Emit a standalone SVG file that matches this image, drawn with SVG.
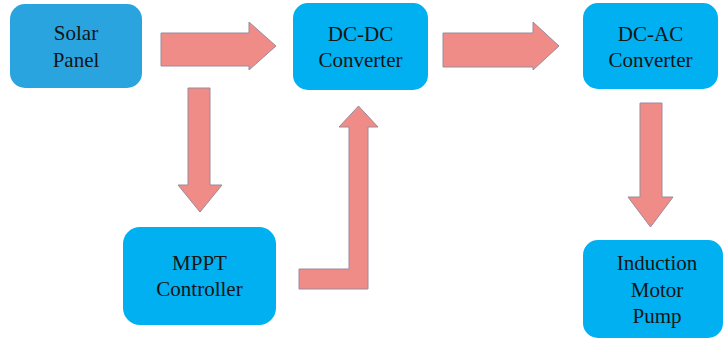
<svg xmlns="http://www.w3.org/2000/svg" width="725" height="339" viewBox="0 0 725 339">
  <style>
    .box { fill: #00b0f0; }
    .box.alt { fill: #2aa4df; }
    text { font-family: 'Liberation Serif', 'Times New Roman', serif; font-size: 21px; fill: #141414; text-anchor: middle; }
    .arrow { fill: #ef8c88; stroke: #9b8a9a; stroke-width: 1; stroke-linejoin: miter; }
  </style>
  <rect width="725" height="339" fill="#ffffff"/>

  <g id="connectors">
    <!-- Solar Panel to DC-DC Converter -->
    <polygon class="arrow" points="161,33 249,33 249,22 276,46 249,70 249,66 161,66"/>
    <!-- DC-DC to DC-AC Converter -->
    <polygon class="arrow" points="443,33 533,33 533,22 559,46 533,70 533,67 443,67"/>
    <!-- Solar Panel down to MPPT Controller -->
    <polygon class="arrow" points="188,88 210,88 210,185 222,185 200,212 178,185 188,185"/>
    <!-- MPPT Controller up to DC-DC Converter -->
    <polygon class="arrow" points="299,269 349,269 349,127 339,127 358.5,106 378,127 368,127 368,289 299,289"/>
    <!-- DC-AC Converter down to Induction Motor Pump -->
    <polygon class="arrow" points="640,103 662,103 662,197 673,197 650.5,227 628,197 640,197"/>
  </g>

  <g id="solar-panel">
    <rect class="box alt" x="10" y="4" width="132" height="84" rx="15"/>
    <text x="76" y="40">Solar</text>
    <text x="76" y="67">Panel</text>
  </g>

  <g id="dc-dc-converter">
    <rect class="box" x="293" y="3" width="135" height="87" rx="15"/>
    <text x="360.5" y="41">DC-DC</text>
    <text x="360.5" y="67">Converter</text>
  </g>

  <g id="dc-ac-converter">
    <rect class="box" x="583" y="3" width="135" height="86" rx="15"/>
    <text x="650.5" y="41">DC-AC</text>
    <text x="650.5" y="67">Converter</text>
  </g>

  <g id="mppt-controller">
    <rect class="box" x="123" y="227" width="153" height="98" rx="17"/>
    <text x="199.5" y="270">MPPT</text>
    <text x="199.5" y="296">Controller</text>
  </g>

  <g id="induction-motor-pump">
    <rect class="box" x="583" y="240" width="140" height="98" rx="15"/>
    <text x="657" y="270">Induction</text>
    <text x="657" y="297">Motor</text>
    <text x="657" y="323">Pump</text>
  </g>
</svg>
